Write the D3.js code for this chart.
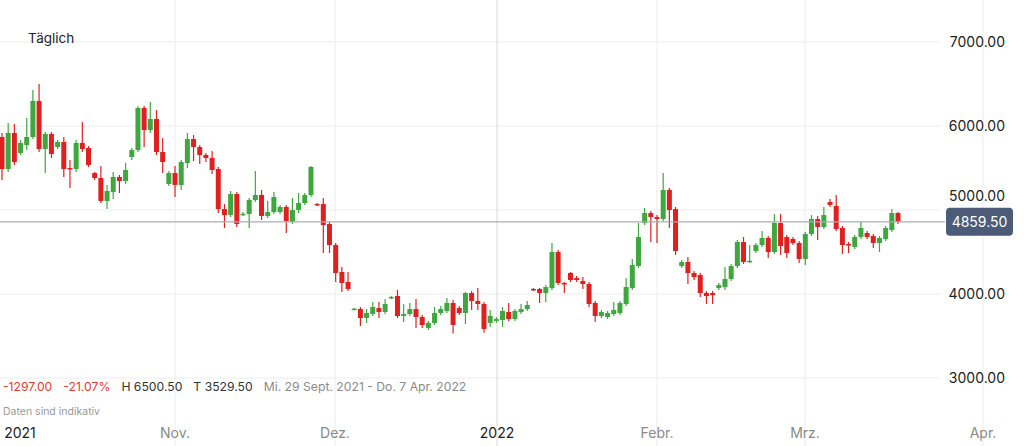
<!DOCTYPE html>
<html><head><meta charset="utf-8">
<script src="https://cdn.jsdelivr.net/npm/d3@7"></script>
<style>body{margin:0;background:#fff;font-family:Inter,"Noto Sans",sans-serif}</style>
</head><body><svg id="c" width="1024" height="446"></svg>
<script>
const opens=[5869,5488,5917,5679,5774,5869,6298,5726,5905,5750,5810,5500,5488,5798,5738,5440,5381,5107,5214,5393,5345,5631,5714,6214,5952,6083,5690,5310,5440,5298,5560,5845,5750,5655,5619,5488,5012,4940,5190,4945,4952,5119,5179,4929,4976,4976,5036,4857,5000,5083,5179,5071,5071,4833,4583,4262,4143,3815,3821,3714,3762,3833,3786,3960,3976,3738,3762,3821,3726,3595,3655,3774,3798,3893,3833,3774,4012,3917,3881,3655,3679,3690,3786,3702,3786,3821,4060,4060,4012,4071,4500,4131,4250,4190,4155,4119,3893,3738,3726,3762,3774,3881,4071,4333,4845,4964,4917,4893,5238,5012,4333,4381,4250,4226,4012,4012,4071,4083,4179,4333,4619,4385,4512,4583,4667,4500,4845,4679,4655,4607,4417,4714,4893,4798,5095,5048,4786,4595,4560,4679,4726,4690,4607,4655,4762,4964];
const highs=[5917,6036,6024,5833,6095,6429,6500.5,5929,5929,5833,5869,5595,5833,6048,5762,5452,5524,5298,5452,5417,5560,5738,6238,6238,6286,6190,5857,5464,5524,5595,5917,5893,5774,5679,5702,5512,5071,5226,5214,4976,5143,5464,5238,5107,5214,5060,5060,5143,5202,5202,5524,5083,5143,4857,4607,4321,4262,3833,3845,3821,3905,3905,3940,3976,4048,3881,3893,3940,3750,3679,3845,3857,3952,3929,3857,4024,4036,4071,3905,3810,3726,3845,3893,3821,3881,3917,4071,4071,4107,4607,4524,4143,4262,4214,4202,4143,3917,3810,3798,3905,3917,4190,4417,4845,5024,4988,4940,5440,5262,5036,4405,4440,4274,4250,4036,4036,4131,4321,4357,4643,4679,4583,4607,4750,4690,4952,4952,4702,4679,4631,4738,4940,4929,5036,5131,5179,4810,4619,4702,4857,4750,4714,4690,4810,5012,4976];
const lows=[5357,5452,5536,5655,5714,5845,5690,5440,5619,5726,5393,5262,5452,5690,5512,5357,5083,5012,5131,5202,5310,5595,5690,5750,5917,5655,5440,5286,5155,5238,5500,5583,5548,5571,5429,4964,4786,4917,4798,4929,4786,5095,4881,4905,4952,4952,4726,4833,4964,5060,5155,5048,4488,4488,4143,4024,4036,3810,3619,3655,3738,3714,3762,3940,3714,3667,3738,3595,3595,3571,3631,3750,3774,3529.5,3750,3643,3810,3810,3540,3607,3655,3607,3679,3679,3762,3798,4036,3893,3905,4048,4107,4012,4143,4143,4060,3845,3667,3714,3702,3738,3750,3857,4048,4310,4821,4619,4607,4869,4786,4464,4310,4119,4167,3964,3881,3881,4048,4048,4155,4310,4357,4369,4488,4560,4429,4476,4464,4429,4583,4369,4345,4690,4643,4774,5036,4750,4476,4488,4536,4655,4655,4548,4500,4631,4738,4833];
const closes=[5488,5917,5571,5798,5869,6298,5726,5905,5667,5810,5488,5488,5798,5726,5536,5381,5107,5226,5393,5345,5476,5714,6214,5952,6083,5690,5571,5440,5298,5571,5845,5750,5655,5619,5476,5012,4940,5190,4833,4955,5119,5179,4929,4976,5155,5036,4869,5000,5083,5179,5512,5060,4821,4583,4250,4131,4060,3825,3714,3774,3845,3786,3881,3965,3738,3762,3821,3726,3631,3655,3774,3821,3893,3631,3774,4012,3917,3881,3583,3738,3702,3798,3702,3798,3821,3869,4048,4012,4083,4500,4131,4119,4167,4167,4119,3881,3738,3786,3774,3810,3893,4083,4345,4679,4964,4917,4893,5238,5000,4512,4381,4250,4202,4012,3976,3988,4107,4179,4333,4619,4381,4395,4583,4667,4500,4845,4571,4488,4607,4417,4714,4893,4798,4940,5060,4774,4583,4590,4679,4786,4679,4607,4667,4786,4964,4859.5];
const yTicks=[3000,4000,5000,6000,7000];
const monthTicks=["2021-10-01","2021-11-01","2021-12-01","2022-01-01","2022-02-01","2022-03-01","2022-04-01"];
const monthLabels=["2021","Nov.","Dez.","2022","Febr.","Mrz.","Apr."];
const lastPrice=4859.5;
const stats=[{t:"-1297.00",c:"#e53935"},{t:"-21.07%",c:"#e53935"},{t:"H 6500.50",c:"#333"},{t:"T 3529.50",c:"#333"},{t:"Mi. 29 Sept. 2021 - Do. 7 Apr. 2022",c:"#8a8a8a"}];

const svg=d3.select("#c");
const y=d3.scaleLinear().domain([3000,7000]).range([378,42]);
const x=d3.scaleLinear().domain([0,opens.length-1]).range([2,898]);
const t=d3.scaleUtc().domain(monthTicks.map(d=>new Date(d))).range([20,175,335,497,657,805,983]);

svg.append("g").selectAll("line").data(yTicks).join("line")
 .attr("x1",0).attr("x2",940).attr("y1",d=>y(d)).attr("y2",d=>y(d))
 .attr("stroke","#ececec").attr("stroke-width",1);
svg.append("g").selectAll("line").data(monthTicks.slice(1)).join("line")
 .attr("x1",d=>t(new Date(d))).attr("x2",d=>t(new Date(d))).attr("y1",0).attr("y2",446)
 .attr("stroke",(d,i)=>i==2?"#d8d8d8":"#ececec");

const g=svg.append("g");
const w=5;
opens.forEach((o,i)=>{
  const c=closes[i], up=c>=o, col=up?"#3ea83e":"#e02020";
  const cx=x(i);
  g.append("line").attr("x1",cx).attr("x2",cx).attr("y1",y(highs[i])).attr("y2",y(lows[i])).attr("stroke",col).attr("stroke-width",1.2);
  const top=y(Math.max(o,c)), bot=y(Math.min(o,c));
  g.append("rect").attr("x",cx-w/2).attr("y",top).attr("width",w).attr("height",Math.max(1.5,bot-top)).attr("fill",col);
});

svg.append("line").attr("x1",0).attr("x2",945).attr("y1",y(lastPrice)).attr("y2",y(lastPrice)).attr("stroke","#a9adb6").attr("stroke-width",1.3);

svg.append("g").selectAll("text").data(yTicks.filter(d=>Math.abs(y(d)-y(lastPrice))>16)).join("text")
 .attr("x",1005).attr("y",d=>y(d)).attr("dy","0.35em").attr("text-anchor","end")
 .attr("font-size",14).attr("fill","#222").text(d=>d3.format(".2f")(d));
// tick partly hidden behind the price box, as in the reference
svg.append("text").attr("x",1005).attr("y",y(5000)-9).attr("text-anchor","end")
 .attr("font-size",14).attr("fill","#222").text(d3.format(".2f")(5000))
 .attr("clip-path","url(#clipTop)");
svg.append("clipPath").attr("id","clipTop").append("rect").attr("x",940).attr("y",190).attr("width",84).attr("height",y(lastPrice)-14-190);
svg.append("rect").attr("x",946).attr("y",y(lastPrice)-14).attr("width",67).attr("height",28).attr("rx",4).attr("fill","#4b5b78");
svg.append("text").attr("x",979.5).attr("y",y(lastPrice)).attr("dy","0.35em").attr("text-anchor","middle").attr("font-size",14).attr("fill","#fff").text(d3.format(".2f")(lastPrice));

svg.append("g").selectAll("text").data(monthTicks).join("text")
 .attr("x",d=>t(new Date(d))).attr("y",433).attr("dy","0.35em").attr("text-anchor","middle")
 .attr("font-size",14).attr("fill",(d,i)=>(i==0||i==3)?"#222":"#8a8a8a").text((d,i)=>monthLabels[i]);

svg.append("text").attr("x",28).attr("y",38).attr("dy","0.35em").attr("font-size",13.5).attr("fill","#222").text("Täglich");

const st=svg.append("text").attr("x",3).attr("y",387).attr("dy","0.35em").attr("font-size",12.2);
stats.forEach((s,i)=>st.append("tspan").attr("dx",i?11:0).attr("fill",s.c).text(s.t));
svg.append("text").attr("x",3).attr("y",411).attr("dy","0.35em").attr("font-size",10.5).attr("fill","#999").text("Daten sind indikativ");
</script></body></html>
